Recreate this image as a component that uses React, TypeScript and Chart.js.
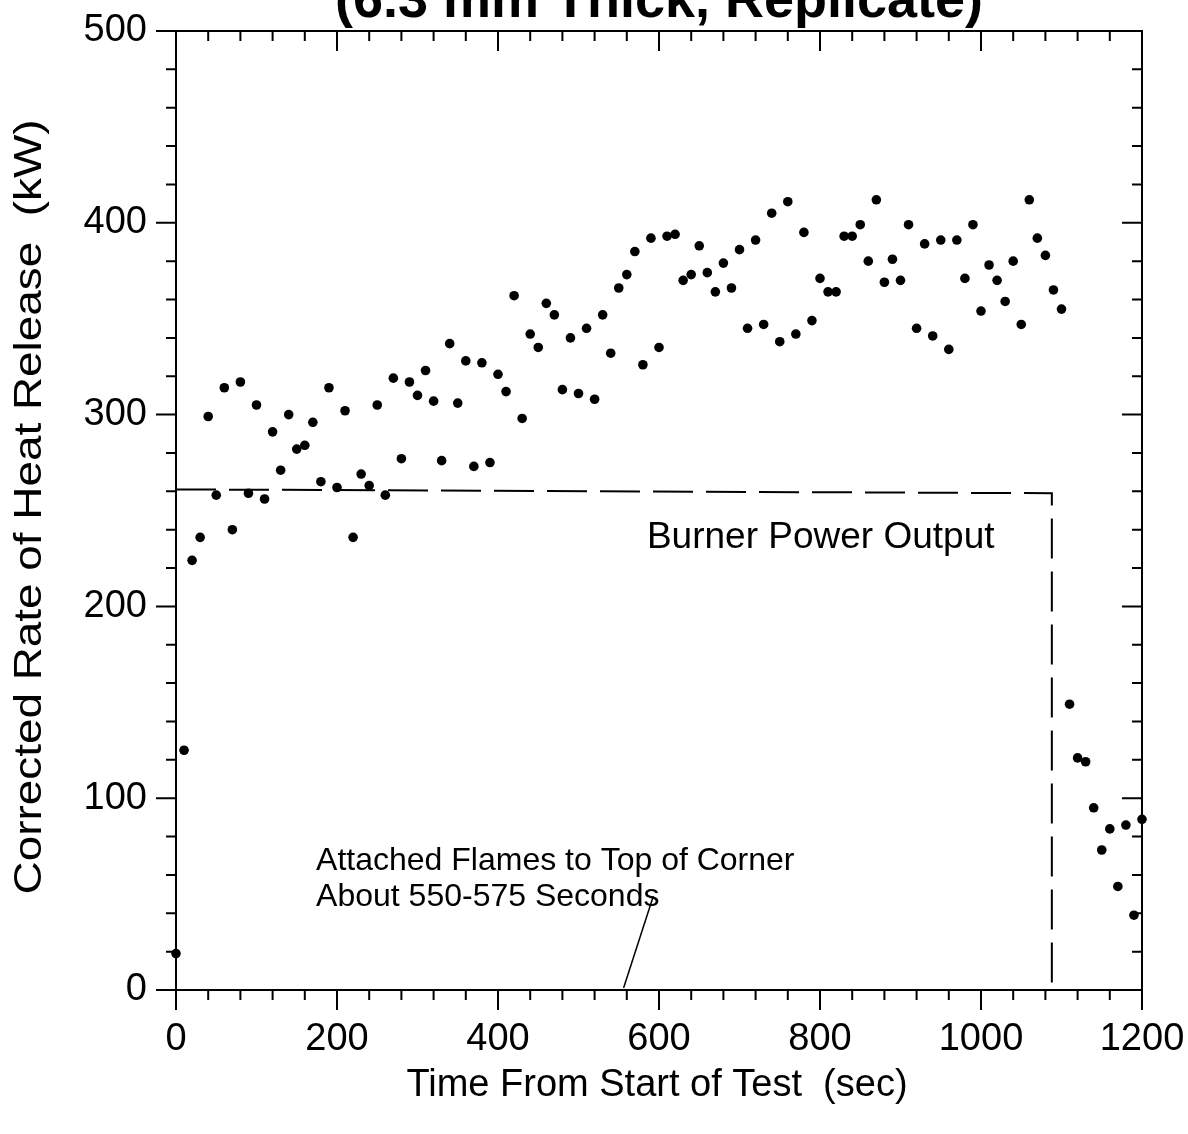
import React, { useEffect, useRef } from "react";
import { Chart, registerables } from "chart.js";

Chart.register(...registerables);

// ---- data ----
const timeSec = [
  0, 10, 20, 30, 40, 50, 60, 70, 80, 90,
  100, 110, 120, 130, 140, 150, 160, 170, 180, 190,
  200, 210, 220, 230, 240, 250, 260, 270, 280, 290,
  300, 310, 320, 330, 340, 350, 360, 370, 380, 390,
  400, 410, 420, 430, 440, 450, 460, 470, 480, 490,
  500, 510, 520, 530, 540, 550, 560, 570, 580, 590,
  600, 610, 620, 630, 640, 650, 660, 670, 680, 690,
  700, 710, 720, 730, 740, 750, 760, 770, 780, 790,
  800, 810, 820, 830, 840, 850, 860, 870, 880, 890,
  900, 910, 920, 930, 940, 950, 960, 970, 980, 990,
  1000, 1010, 1020, 1030, 1040, 1050, 1060, 1070, 1080, 1090,
  1100, 1110, 1120, 1130, 1140, 1150, 1160, 1170, 1180, 1190,
  1200,
];
const heatReleaseKW = [
  19, 125, 224, 236, 299, 258, 314, 240, 317, 259,
  305, 256, 291, 271, 300, 282, 284, 296, 265, 314,
  262, 302, 236, 269, 263, 305, 258, 319, 277, 317,
  310, 323, 307, 276, 337, 306, 328, 273, 327, 275,
  321, 312, 362, 298, 342, 335, 358, 352, 313, 340,
  311, 345, 308, 352, 332, 366, 373, 385, 326, 392,
  335, 393, 394, 370, 373, 388, 374, 364, 379, 366,
  386, 345, 391, 347, 405, 338, 411, 342, 395, 349,
  371, 364, 364, 393, 393, 399, 380, 412, 369, 381,
  370, 399, 345, 389, 341, 391, 334, 391, 371, 399,
  354, 378, 370, 359, 380, 347, 412, 392, 383, 365,
  355, 149, 121, 119, 95, 73, 84, 54, 86, 39,
  89,
];
const burnerTime = [0, 1088, 1088];
const burnerPowerKW = [261, 259, 0];
const leaderTime = [556, 593];
const leaderValue = [1, 49];
const xTickValues = [0, 200, 400, 600, 800, 1000, 1200];
const yTickValues = [0, 100, 200, 300, 400, 500];

const titleText = "(6.3 mm Thick, Replicate)";
const xTitle = "Time From Start of Test  (sec)";
const yTitle = "Corrected Rate of Heat Release  (kW)";
const burnerLabel = "Burner Power Output";
const noteLines = ["Attached Flames to Top of Corner", "About 550-575 Seconds"];

const FONT = "'Liberation Sans', Arial, Helvetica, sans-serif";

function fillFitted(ctx: CanvasRenderingContext2D, text: string, cx: number, cy: number, width: number) {
  const w = ctx.measureText(text).width;
  const sx = width / w;
  ctx.save();
  ctx.translate(cx, cy);
  ctx.scale(sx, 1);
  ctx.textAlign = "center";
  ctx.fillText(text, 0, 0);
  ctx.restore();
}

const decorPlugin = {
  id: "decor",
  afterDraw(chart: any) {
    const { ctx, chartArea, scales } = chart;
    const { left, right, top, bottom } = chartArea;
    const x = scales.x;
    const y = scales.y;
    ctx.save();
    ctx.strokeStyle = "#000";
    ctx.fillStyle = "#000";
    ctx.lineWidth = 2;
    ctx.strokeRect(left, top, right - left, bottom - top);

    for (let v = 0; v <= 1200; v += 40) {
      const px = x.getPixelForValue(v);
      const major = xTickValues.includes(v);
      const len = major ? 20 : 10;
      ctx.beginPath();
      ctx.moveTo(px, bottom);
      ctx.lineTo(px, bottom + len);
      ctx.moveTo(px, top);
      ctx.lineTo(px, top + len);
      ctx.stroke();
    }
    for (let v = 0; v <= 500; v += 20) {
      const py = y.getPixelForValue(v);
      const major = yTickValues.includes(v);
      const len = major ? 20 : 10;
      ctx.beginPath();
      ctx.moveTo(left - len, py);
      ctx.lineTo(left, py);
      ctx.moveTo(right - len, py);
      ctx.lineTo(right, py);
      ctx.stroke();
    }

    // title (partly cut off at top)
    ctx.font = `bold 54px ${FONT}`;
    ctx.textAlign = "center";
    ctx.textBaseline = "alphabetic";
    ctx.fillText(titleText, 659, 17);

    // axis titles
    ctx.font = `38px ${FONT}`;
    ctx.textBaseline = "middle";
    ctx.fillText(xTitle, 657, bottom + 96);
    ctx.save();
    ctx.translate(31, 507);
    ctx.rotate(-Math.PI / 2);
    fillFitted(ctx, yTitle, 0, 0, 775);
    ctx.restore();

    // annotations
    ctx.textAlign = "left";
    ctx.font = `37px ${FONT}`;
    ctx.fillText(burnerLabel, x.getPixelForValue(585), y.getPixelForValue(236));
    ctx.font = `32px ${FONT}`;
    ctx.fillText(noteLines[0], x.getPixelForValue(174), y.getPixelForValue(67));
    ctx.fillText(noteLines[1], x.getPixelForValue(174), y.getPixelForValue(48.5));
    ctx.restore();
  },
};

export default function App() {
  const canvasRef = useRef<HTMLCanvasElement | null>(null);

  useEffect(() => {
    const canvas = canvasRef.current;
    if (!canvas) return;
    const zeroPad = (s: any) => {
      s.paddingTop = 0;
      s.paddingBottom = 0;
      s.paddingLeft = 0;
      s.paddingRight = 0;
    };
    const chart = new Chart(canvas, {
      type: "scatter",
      data: {
        datasets: [
          {
            label: "HRR",
            data: timeSec.map((t, i) => ({ x: t, y: heatReleaseKW[i] })),
            showLine: false,
            pointRadius: 4.8,
            pointBackgroundColor: "#000",
            pointBorderColor: "#000",
            pointBorderWidth: 0,
            clip: false as any,
          },
          {
            label: "Burner",
            data: burnerTime.map((t, i) => ({ x: t, y: burnerPowerKW[i] })),
            showLine: true,
            borderColor: "#000",
            borderWidth: 2,
            borderDash: [40, 13],
            pointRadius: 0,
            fill: false,
          },
          {
            label: "Leader",
            data: leaderTime.map((t, i) => ({ x: t, y: leaderValue[i] })),
            showLine: true,
            borderColor: "#000",
            borderWidth: 1.5,
            pointRadius: 0,
            fill: false,
          },
        ],
      },
      options: {
        animation: false,
        responsive: false,
        maintainAspectRatio: false,
        events: [],
        layout: { padding: { top: 31, right: 46, left: 0, bottom: 0 } },
        plugins: {
          legend: { display: false },
          tooltip: { enabled: false },
          title: { display: false },
        },
        scales: {
          x: {
            type: "linear",
            min: 0,
            max: 1200,
            grid: { display: false, drawTicks: false },
            border: { display: false },
            ticks: {
              stepSize: 200,
              color: "#000",
              font: { size: 38, family: FONT },
              padding: 27,
              maxRotation: 0,
              callback: (v: any) => String(v),
            },
            afterFit: (s: any) => {
              s.height = 144;
              zeroPad(s);
            },
          },
          y: {
            type: "linear",
            min: 0,
            max: 500,
            grid: { display: false, drawTicks: false },
            border: { display: false },
            ticks: {
              stepSize: 100,
              color: "#000",
              font: { size: 38, family: FONT },
              padding: 29,
              callback: (v: any) => String(v),
            },
            afterFit: (s: any) => {
              s.width = 176;
              zeroPad(s);
            },
          },
        },
      },
      plugins: [decorPlugin],
    });
    return () => chart.destroy();
  }, []);

  return (
    <div style={{ position: "fixed", left: 0, top: 0, width: 1188, height: 1134, background: "#fff" }}>
      <canvas ref={canvasRef} width={1188} height={1134} style={{ width: 1188, height: 1134, display: "block" }} />
    </div>
  );
}
